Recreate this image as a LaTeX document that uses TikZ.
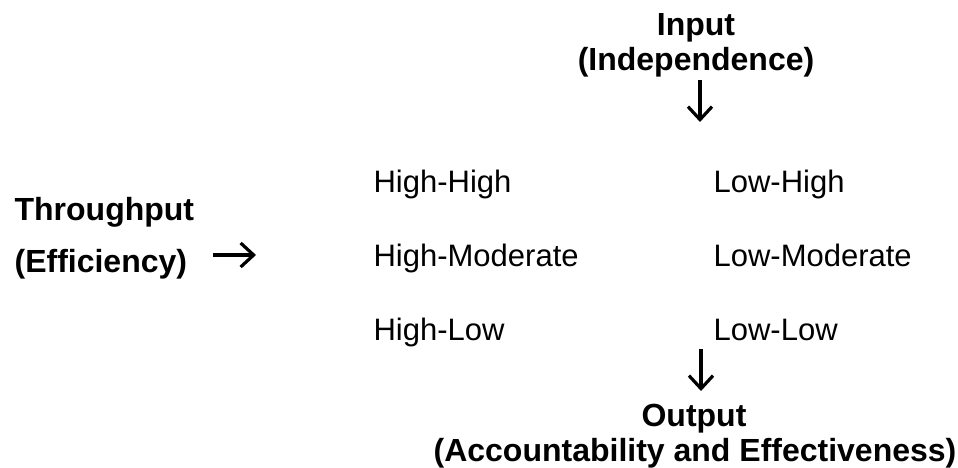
\documentclass[tikz,border=0pt]{standalone}
\usepackage{fontspec}
\setmainfont{Liberation Sans}
\usetikzlibrary{arrows.meta}

\begin{document}
\begin{tikzpicture}[x=1pt,y=1pt,->,>={Straight Barb[length=13pt,width=24pt]},line width=3.2pt,
	head node/.style={inner sep=0pt,anchor=base,font=\fontsize{32}{38}\selectfont\bfseries},
	cell node/.style={inner sep=0pt,anchor=base west,font=\fontsize{31}{37}\selectfont}]
	\useasboundingbox (0,0) rectangle (958,-467);

	\node[head node] (in) at (696,-35) {Input};
	\node[head node] (ind) at (696,-70) {(Independence)};
	\node[head node,anchor=base west] (thr) at (13,-220) {Throughput};
	\node[head node,anchor=base west] (eff) at (13,-272) {(Efficiency)};
	\node[head node] (out) at (694,-426) {Output};
	\node[head node] (acc) at (695,-461) {(Accountability and Effectiveness)};

	% grid of combinations
	\node[cell node] (hh) at (372,-192) {High-High};
	\node[cell node] (hm) at (372,-266) {High-Moderate};
	\node[cell node] (hl) at (372,-340) {High-Low};
	\node[cell node] (lh) at (712,-192) {Low-High};
	\node[cell node] (lm) at (712,-266) {Low-Moderate};
	\node[cell node] (ll) at (712,-340) {Low-Low};

	\coordinate (a1) at (700,-80);
	\coordinate (a2) at (700,-122);
	\coordinate (b1) at (213,-255);
	\coordinate (b2) at (256,-255);
	\coordinate (c1) at (701,-349);
	\coordinate (c2) at (701,-391);

	\path
		(a1) edge (a2)
		(b1) edge (b2)
		(c1) edge (c2);
\end{tikzpicture}
\end{document}
